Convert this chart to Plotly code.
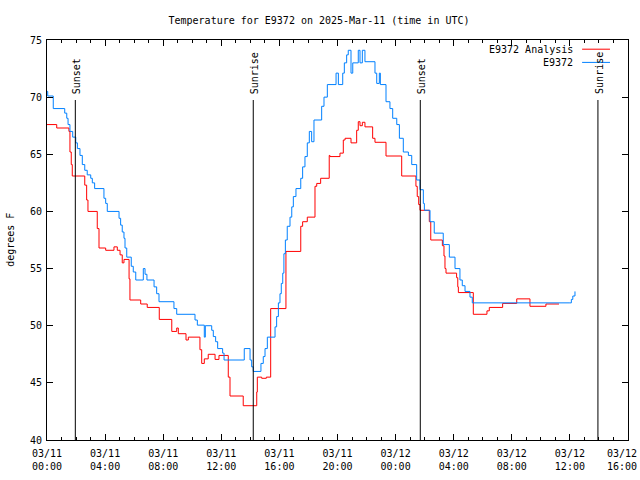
import plotly.graph_objects as go
import pandas as pd

# ---------------- data ----------------
START = "2025-03-11 00:00"

# E9372 Analysis (red): hours since 03/11 00:00 UTC, degrees F
analysis_hours = [0.00, 0.67, 1.51, 1.58, 1.67, 1.74, 2.60, 2.73, 2.82, 3.46, 3.58, 4.04, 4.61, 4.84,
                  5.03, 5.18, 5.30, 5.65, 5.71, 6.45, 6.90, 7.73, 8.59, 8.93, 9.04, 9.57, 9.73, 10.53,
                  10.65, 10.83, 11.10, 11.57, 11.84, 12.48, 12.60, 13.51, 14.44, 14.48, 14.78, 15.10,
                  15.40, 16.45, 17.47, 17.60, 17.92, 18.45, 18.57, 18.84, 19.43, 19.48, 20.17, 20.40,
                  20.52, 20.93, 21.32, 21.43, 21.55, 21.71, 21.89, 22.42, 22.58, 23.34, 24.42, 25.40,
                  25.49, 25.59, 25.68, 26.32, 26.42, 27.22, 27.33, 27.40, 27.47, 28.20, 28.28, 28.32,
                  29.35, 30.29, 30.45, 31.37, 32.34, 33.25, 34.35, 35.25]
analysis_temp = [67.6, 67.3, 67.0, 65.2, 64.1, 63.1, 62.3, 61.0, 60.0, 58.5, 56.8, 56.6, 56.9, 56.6,
                 56.2, 55.5, 55.8, 54.1, 52.25, 51.9, 51.6, 50.55, 49.5, 49.8, 49.3, 48.75, 49.0, 47.9,
                 46.7, 47.1, 47.5, 47.05, 47.4, 45.5, 43.85, 43.0, 44.2, 45.5, 45.4, 45.5,
                 51.5, 56.5, 58.7, 59.1, 59.5, 62.2, 62.45, 62.9, 64.9, 64.8, 65.1, 66.25,
                 66.4, 66.0, 67.1, 67.85, 67.5, 67.8, 67.4, 66.4, 66.05, 64.85, 63.1, 62.2,
                 61.3, 60.6, 60.1, 59.1, 57.5, 57.0, 56.1, 55.0, 54.6, 54.2, 53.4, 52.9,
                 51.0, 51.3, 51.6, 51.95, 52.35, 51.7, 51.9, 51.9]

# E9372 observed (blue)
obs_hours = [0.00, 0.05, 0.43, 1.22, 1.36, 1.45, 1.58, 1.77, 1.98, 2.09, 2.27, 2.43, 2.60, 2.77,
             3.01, 3.12, 3.28, 3.92, 4.04, 4.15, 4.96, 5.07, 5.18, 5.30, 5.37, 5.49, 5.80, 5.94,
             6.11, 6.63, 6.75, 6.88, 7.37, 7.55, 7.71, 8.74, 8.93, 10.19, 10.35, 10.83, 10.90,
             11.34, 11.45, 11.61, 11.75, 12.09, 12.19, 13.58, 13.98, 14.09, 14.20, 14.73, 14.89,
             15.01, 15.17, 15.70, 15.81, 15.93, 16.04, 16.13, 16.23, 16.31, 16.41, 16.54, 16.73,
             16.85, 16.96, 17.14, 17.47, 17.60, 17.76, 17.92, 18.06, 18.22, 18.38, 18.91, 19.07,
             19.30, 19.90, 20.06, 20.36, 20.47, 20.63, 20.74, 20.93, 21.05, 21.43, 21.55, 21.71,
             21.89, 22.58, 22.70, 22.88, 22.95, 23.34, 23.61, 23.80, 24.08, 24.26, 24.53, 24.88,
             25.11, 25.45, 25.68, 25.91, 25.98, 26.37, 26.66, 27.28, 27.70, 28.09, 28.43, 28.59,
             28.78, 29.12, 29.28, 36.00, 36.10, 36.20, 36.35]
obs_temp = [70.5, 70.1, 69.0, 68.6, 68.15, 67.6, 67.0, 66.5, 66.0, 65.5, 64.9, 64.1, 63.6, 63.2,
            62.9, 62.5, 62.0, 61.15, 60.7, 60.0, 59.4, 58.8, 58.2, 57.65, 56.8, 56.0, 55.2, 54.7,
            54.0, 55.0, 54.5, 54.0, 53.4, 52.8, 52.1, 51.5, 51.0, 50.5, 50.05, 49.0, 50.0,
            49.6, 49.05, 48.6, 48.0, 47.6, 47.0, 48.0, 47.0, 46.4, 46.0, 46.7, 47.3,
            48.0, 49.0, 49.9, 50.8, 52.0, 52.8, 53.7, 54.6, 56.3, 57.5, 58.7, 59.5,
            60.4, 61.3, 62.0, 62.9, 63.9, 64.8, 66.0, 67.0, 66.1, 68.0, 69.2, 70.0,
            71.1, 72.1, 71.1, 72.1, 73.0, 73.7, 74.1, 72.1, 73.0, 74.1, 73.0, 74.1,
            73.1, 72.1, 71.2, 72.1, 71.1, 69.6, 69.0, 68.15, 67.6, 66.4, 65.2, 64.9,
            64.1, 62.75, 61.9, 60.7, 60.1, 59.1, 58.1, 57.1, 56.0, 55.0, 54.0, 53.5,
            53.0, 52.5, 52.0, 52.0, 52.3, 52.6, 53.0]

# sun events (hours since start)
sun_hours = [1.95, 14.20, 25.70, 37.93]
sun_labels = ["Sunset", "Sunrise", "Sunset", "Sunrise"]

# x ticks
tick_hours = [0, 4, 8, 12, 16, 20, 24, 28, 32, 36, 40]
tick_labels = ["03/11<br>00:00", "03/11<br>04:00", "03/11<br>08:00", "03/11<br>12:00",
               "03/11<br>16:00", "03/11<br>20:00", "03/12<br>00:00", "03/12<br>04:00",
               "03/12<br>08:00", "03/12<br>12:00", "03/12<br>16:00"]

series_names = ["E9372 Analysis", "E9372"]
series_colors = ["#ff0000", "#0080ff"]

TITLE = "Temperature for E9372 on 2025-Mar-11 (time in UTC)"
Y_LABEL = "degrees F"

# ---------------- figure ----------------
T0 = pd.Timestamp(START)


def to_time(hours):
    return [T0 + pd.Timedelta(hours=h) for h in hours]


FONT = "DejaVu Sans Mono"
W, H = 640, 480

fig = go.Figure()
fig.add_trace(go.Scatter(x=to_time(analysis_hours), y=analysis_temp, mode="lines",
                         name=series_names[0],
                         line=dict(color=series_colors[0], width=1, shape="hv")))
fig.add_trace(go.Scatter(x=to_time(obs_hours), y=obs_temp, mode="lines",
                         name=series_names[1],
                         line=dict(color=series_colors[1], width=1, shape="hv")))

shapes = []
annotations = []
for h, lab in zip(sun_hours, sun_labels):
    t = T0 + pd.Timedelta(hours=h)
    shapes.append(dict(type="line", xref="x", yref="y domain", x0=t, x1=t, y0=0, y1=0.85,
                       line=dict(color="black", width=1)))
    annotations.append(dict(x=t, y=0.86, xref="x", yref="y domain", text=lab, showarrow=False,
                            textangle=-90, xanchor="center", yanchor="bottom", xshift=1,
                            font=dict(family=FONT, size=10, color="black")))

# legend (gnuplot style: text right, sample line at right)
leg_y = [0.977, 0.944]
for name, col, yy in zip(series_names, series_colors, leg_y):
    annotations.append(dict(x=0.909, y=yy, xref="paper", yref="paper", text=name, showarrow=False,
                            xanchor="right", yanchor="middle",
                            font=dict(family=FONT, size=10, color="black")))
    shapes.append(dict(type="line", xref="paper", yref="paper", x0=0.921, x1=0.969, y0=yy, y1=yy,
                       line=dict(color=col, width=1)))

annotations.append(dict(x=-0.064, y=0.5, xref="paper", yref="paper", text=Y_LABEL, showarrow=False,
                        textangle=-90, xanchor="center", yanchor="middle",
                        font=dict(family=FONT, size=10, color="black")))

# last x tick label sits flush with the right edge (as in the original)
annotations.append(dict(x=1, y=0, xref="paper", yref="paper", text=tick_labels[-1],
                        showarrow=False, xanchor="right", yanchor="top", xshift=11, yshift=-6,
                        align="center", font=dict(family=FONT, size=10, color="black")))

fig.update_layout(
    width=W, height=H, autosize=False,
    margin=dict(l=47, r=12, t=40, b=40, pad=0),
    paper_bgcolor="white", plot_bgcolor="white",
    showlegend=False,
    title=dict(text=TITLE, x=319 / W, xref="container", xanchor="center",
               y=1 - 20 / H, yref="container", yanchor="middle",
               font=dict(family=FONT, size=10, color="black")),
    shapes=shapes, annotations=annotations,
    font=dict(family=FONT, size=10, color="black"),
)

fig.update_xaxes(
    type="date", automargin=False,
    range=[T0, T0 + pd.Timedelta(hours=40)],
    tickmode="array", tickvals=to_time(tick_hours),
    ticktext=tick_labels[:-1] + [""],
    ticks="inside", ticklen=6, tickwidth=1, tickcolor="black",
    ticklabelstandoff=4, ticklabeloverflow="allow",
    minor=dict(tickmode="linear", tick0=T0, dtick=3600000, ticks="inside", ticklen=3,
               tickwidth=1, tickcolor="black", showgrid=False),
    showline=True, linecolor="black", linewidth=1, mirror="ticks",
    showgrid=False, zeroline=False,
    tickfont=dict(family=FONT, size=10, color="black"),
)
fig.update_yaxes(
    automargin=False,
    range=[40, 75], tickmode="linear", tick0=40, dtick=5,
    ticks="inside", ticklen=6, tickwidth=1, tickcolor="black",
    ticklabelstandoff=2,
    showline=True, linecolor="black", linewidth=1, mirror="ticks",
    showgrid=False, zeroline=False,
    tickfont=dict(family=FONT, size=10, color="black"),
)

# remove the browser's default page margin so the 640x480 figure fills the window exactly
fig.write_html("out.html", config={"displayModeBar": False},
               post_script="document.body.style.margin='0px';")
